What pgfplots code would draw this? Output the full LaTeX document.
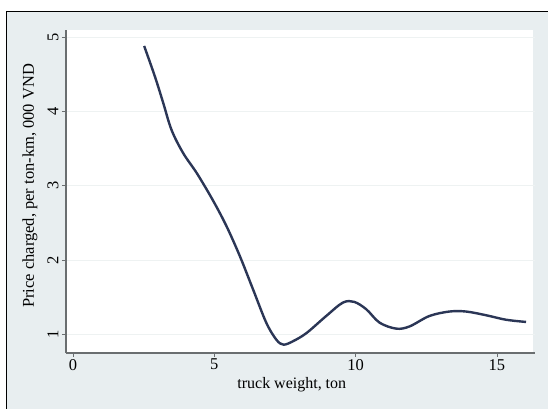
\documentclass[border=0pt]{standalone}
\usepackage{pgfplots}
\pgfplotsset{compat=1.18}
\usepackage{fontspec}
\setmainfont{Liberation Serif}
\definecolor{bggray}{HTML}{E8EEF0}
\definecolor{curvec}{HTML}{2B3656}
\definecolor{axisgray}{HTML}{6A6E70}
\definecolor{gridc}{HTML}{EEF2F2}
\begin{document}
\begin{tikzpicture}[x=1pt,y=1pt]
\fill[white] (0,0) rectangle (548,409);
\fill[bggray] (7,0) rectangle (548,397);
\draw[black, line width=1pt] (7,0) -- (7,397) -- (548,397);
\fill[white] (66,56) rectangle (533,379);
\begin{axis}[
  at={(66pt,56pt)}, anchor=south west,
  scale only axis, width=469pt, height=323pt,
  xmin=-0.247, xmax=16.33, ymin=0.757, ymax=5.095,
  axis x line*=bottom, axis y line*=left,
  axis line style={axisgray, line width=1.8pt},
  xtick={0,5,10,15}, ytick={1,2,3,4,5},
  tick align=outside, major tick length=4pt,
  tick style={axisgray, line width=0.8pt},
  ymajorgrids, grid style={gridc, line width=0.8pt},
  /pgf/number format/assume math mode=true,
  tick label style={font=\fontsize{16.5}{18}\selectfont, text=black},
  xticklabel style={anchor=north, yshift=1pt},
  yticklabel style={rotate=90, anchor=south, xshift=0pt},
  xlabel={truck weight, ton},
  xlabel style={at={(axis description cs:0.482,-0.099)}, anchor=center, font=\fontsize{16}{18}\selectfont},
  ylabel={Price charged, per ton-km, 000 VND},
  ylabel style={at={(axis description cs:-0.0768,0.517)}, anchor=center, rotate=0, font=\fontsize{16.5}{18}\selectfont},
]
\addplot[curvec, line width=2.4pt, smooth, tension=0.55] coordinates {
(2.52,4.88) (2.90,4.47) (3.19,4.12) (3.49,3.75) (3.90,3.44) (4.40,3.16)
(4.96,2.80) (5.43,2.46) (5.90,2.06) (6.37,1.61) (6.84,1.16) (7.20,0.93)
(7.45,0.865) (7.78,0.91) (8.26,1.02) (8.96,1.25) (9.55,1.43) (9.95,1.44)
(10.38,1.34) (10.85,1.16) (11.44,1.08) (11.91,1.11) (12.61,1.25) (13.32,1.31)
(13.91,1.31) (14.62,1.26) (15.32,1.20) (16.03,1.17)
};
\end{axis}
\end{tikzpicture}
\end{document}
